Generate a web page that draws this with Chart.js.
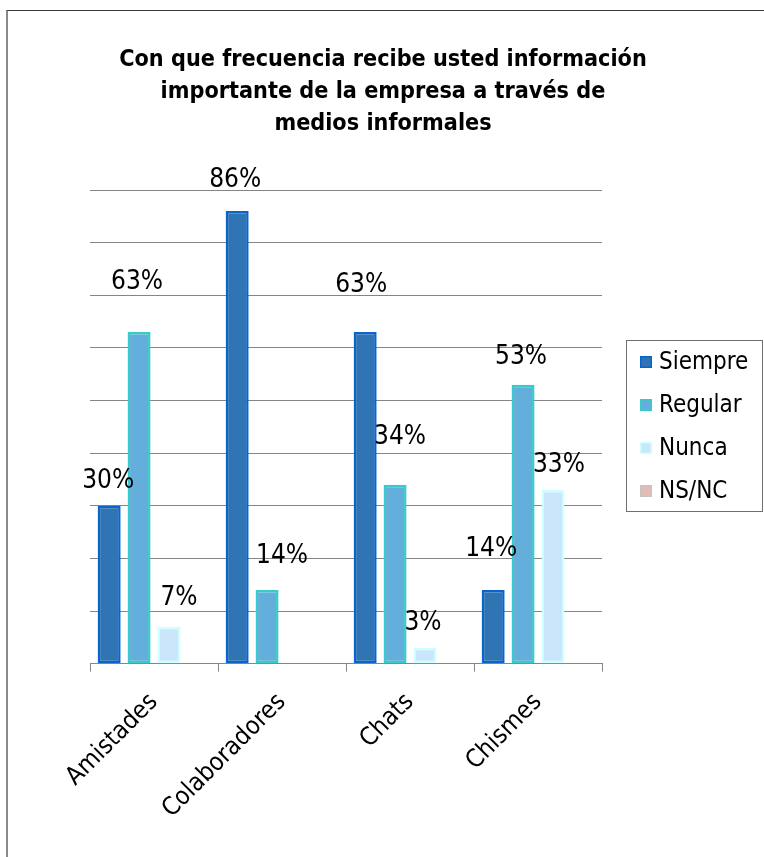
<!DOCTYPE html>
<html lang="es">
<head>
<meta charset="utf-8">
<title>Frecuencia de información por medios informales</title>
<script src="https://cdn.jsdelivr.net/npm/chart.js@4.4.1/dist/chart.umd.min.js"></script>
<style>
  html, body { margin: 0; padding: 0; background: #fff; }
  #wrap { position: relative; width: 764px; height: 857px; overflow: hidden; }
  #frame {
    position: absolute; left: 6px; top: 10px; right: -4px; bottom: -4px;
    border-left: 2px solid #8a8a8a; border-top: 1px solid #3a3a3a;
  }
  #chart { position: absolute; left: 0; top: 0; }
</style>
</head>
<body>
<div id="wrap">
  <div id="frame"></div>
  <canvas id="chart" width="764" height="857"></canvas>
</div>
<script>
const categories = ['Amistades', 'Colaboradores', 'Chats', 'Chismes'];
const seriesNames = ['Siempre', 'Regular', 'Nunca', 'NS/NC'];
const siempre = [30, 86, 63, 14];
const regular = [63, 14, 34, 53];
const nunca = [7, 0, 3, 33];
const nsnc = [0, 0, 0, 0];
const yTicks = [0, 10, 20, 30, 40, 50, 60, 70, 80, 90];
const titleLines = [
  'Con que frecuencia recibe usted información',
  'importante de la empresa a través de',
  'medios informales'
];

const FONT = '"DejaVu Sans Condensed", "DejaVu Sans", sans-serif';

const fills = ['#2f74b3', '#63aedb', '#cbe5fb', '#e3bcb3'];
const edges = ['#0a64cc', '#36cccc', '#ccffff', '#c4c4c4'];

// label nudges per series/category, [dx, dy] from the top of the bar
const nudges = [
  [[-1, 25], [-2, 31], [-4, 47], [-2, 41]],
  [[-2, 50], [15, 34], [5, 47], [-2, 27]],
  [[10, 29], [0, 0], [-2, 25], [6, 25]],
  [[0, 0], [0, 0], [0, 0], [0, 0]]
];

// title is centred on the whole canvas, not on the plot
const titleDraw = {
  id: 'titleDraw',
  afterDraw(chart) {
    const ctx = chart.ctx;
    ctx.save();
    ctx.font = 'bold 23.2px ' + FONT;
    ctx.fillStyle = '#000';
    ctx.textAlign = 'center';
    ctx.textBaseline = 'middle';
    titleLines.forEach((line, i) => ctx.fillText(line, chart.width / 2 + 1, 60 + i * 32));
    ctx.restore();
  }
};

const valueLabels = {
  id: 'valueLabels',
  afterDatasetsDraw(chart) {
    const ctx = chart.ctx;
    ctx.save();
    ctx.font = '26px ' + FONT;
    ctx.fillStyle = '#000';
    ctx.textAlign = 'center';
    ctx.textBaseline = 'middle';
    chart.data.datasets.forEach((ds, i) => {
      chart.getDatasetMeta(i).data.forEach((bar, j) => {
        const v = ds.data[j];
        if (!v) return;
        const [dx, dy] = nudges[i][j];
        ctx.fillText(v + '%', bar.x + dx, bar.y - dy);
      });
    });
    ctx.restore();
  }
};

// boxed legend to the right of the plot, centred on it
const sideLegend = {
  id: 'sideLegend',
  afterDraw(chart) {
    const { ctx, chartArea } = chart;
    const sets = chart.data.datasets;
    const rowGap = 43;
    const midY = (chartArea.top + chartArea.bottom) / 2;
    const firstY = midY - rowGap * (sets.length - 1) / 2;
    const swatchX = chartArea.right + 38;
    ctx.save();
    ctx.font = '24px ' + FONT;
    ctx.textBaseline = 'middle';
    ctx.textAlign = 'left';
    let widest = 0;
    sets.forEach((ds, i) => {
      const y = Math.round(firstY + i * rowGap);
      ctx.fillStyle = ds.backgroundColor;
      ctx.fillRect(swatchX, y - 6, 12, 12);
      ctx.strokeStyle = ds.borderColor;
      ctx.lineWidth = 1.5;
      ctx.strokeRect(swatchX + 0.75, y - 5.25, 10.5, 10.5);
      ctx.fillStyle = '#000';
      ctx.fillText(ds.label, swatchX + 19, y + 1);
      widest = Math.max(widest, ctx.measureText(ds.label).width);
    });
    const left = swatchX - 14;
    const top = Math.round(firstY) - 22;
    const bottom = Math.round(firstY + rowGap * (sets.length - 1)) + 20;
    const right = Math.min(chart.width - 2, swatchX + 19 + widest + 14);
    ctx.strokeStyle = '#6f6f6f';
    ctx.lineWidth = 1;
    ctx.strokeRect(Math.round(left) + 0.5, top + 0.5, Math.round(right - left), bottom - top);
    ctx.restore();
  }
};

const seriesData = [siempre, regular, nunca, nsnc];

new Chart(document.getElementById('chart'), {
  type: 'bar',
  data: {
    labels: categories,
    datasets: seriesNames.map((name, i) => ({
      label: name,
      data: seriesData[i],
      backgroundColor: fills[i],
      borderColor: edges[i],
      borderWidth: 2.5,
      borderSkipped: false,
      categoryPercentage: 0.934,
      barPercentage: 0.77
    }))
  },
  options: {
    responsive: false,
    animation: false,
    devicePixelRatio: 1,
    layout: { padding: { left: 0, right: 162, top: 190, bottom: 17 } },
    plugins: {
      title: { display: false },
      legend: { display: false },
      tooltip: { enabled: false }
    },
    scales: {
      x: {
        grid: { offset: true, drawOnChartArea: false, tickLength: 8, color: '#868686' },
        border: { color: '#868686', width: 1 },
        ticks: {
          color: '#000',
          font: { family: FONT, size: 25 },
          maxRotation: 45,
          minRotation: 45,
          autoSkip: false,
          padding: 16
        }
      },
      y: {
        min: 0,
        max: 90,
        afterBuildTicks(axis) { axis.ticks = yTicks.map(v => ({ value: v })); },
        afterFit(axis) { axis.width = 90; },
        grid: { color: '#858585', drawTicks: false },
        border: { display: false },
        ticks: { display: false }
      }
    }
  },
  plugins: [titleDraw, valueLabels, sideLegend]
});
</script>
</body>
</html>
